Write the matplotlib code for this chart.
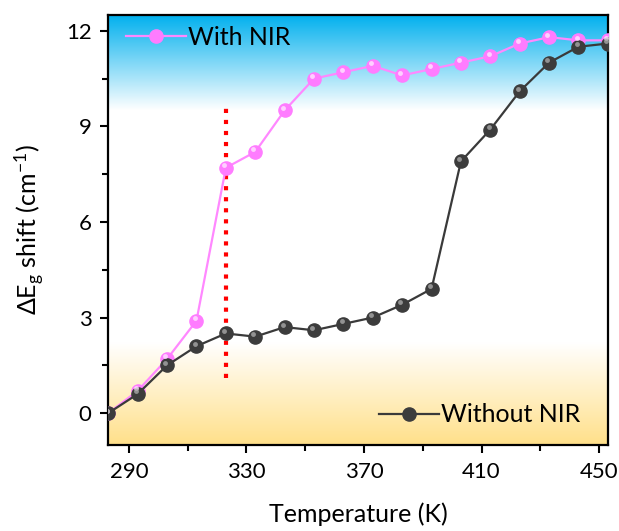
#!/usr/bin/env python3
# -*- coding: utf-8 -*-

import numpy as np
import matplotlib
matplotlib.use("Agg")
import matplotlib.pyplot as plt
from matplotlib.colors import to_rgb

# DATA ------------------------------------------------------------------------------------------------------------

temperature = [283, 293, 303, 313, 323, 333, 343, 353, 363, 373, 383, 393, 403, 413, 423, 433, 443, 453]
with_nir = [0.0, 0.7, 1.7, 2.9, 7.7, 8.2, 9.5, 10.5, 10.7, 10.9, 10.6, 10.8, 11.0, 11.2, 11.6, 11.8, 11.7, 11.7]
without_nir = [0.0, 0.6, 1.5, 2.1, 2.5, 2.4, 2.7, 2.6, 2.8, 3.0, 3.4, 3.9, 7.9, 8.9, 10.1, 11.0, 11.5, 11.6]
marker_temp = 323
marker_span = (1.1, 9.6)

x_ticks = [290, 330, 370, 410, 450]
y_ticks = [0, 3, 6, 9, 12]

# PLOT ------------------------------------------------------------------------------------------------------------

plt.rcParams['font.family'] = ['Lato', 'DejaVu Sans']
plt.rcParams['mathtext.fontset'] = 'custom'
plt.rcParams['mathtext.rm'] = 'Lato'
plt.rcParams['mathtext.it'] = 'Lato'

fig = plt.figure(figsize=(6.19, 5.31), dpi=100)
ax = fig.add_axes([0.175, 0.162, 0.807, 0.81])

xlim = (283, 453)
ylim = (-1.0, 12.5)

# background gradient: blue at top, white middle, yellow at bottom
ys = np.linspace(ylim[0], ylim[1], 400)
blue = np.array(to_rgb('#00b0ee'))
white = np.ones(3)
yellow = np.array(to_rgb('#ffe08a'))
stops_y = [ylim[0], 2.2, 9.5, ylim[1]]
grad = np.zeros((len(ys), 1, 3))
for c in range(3):
    grad[:, 0, c] = np.interp(ys, stops_y, [yellow[c], white[c], white[c], blue[c]])
ax.imshow(grad, extent=[xlim[0], xlim[1], ylim[0], ylim[1]], origin='lower', aspect='auto', zorder=0)


def sphere_line(x, y, line_color, face, highlight, label):
    ax.plot(x, y, '-', color=line_color, lw=1.6, zorder=3, label=label,
            marker='o', ms=9.5, mfc=face, mec=face)
    ax.plot(np.array(x) - 0.6, np.array(y) + 0.08, 'o', ms=3.5, mfc=highlight, mec='none', alpha=0.8, zorder=4)


sphere_line(temperature, with_nir, '#ff88ff', '#ff7cff', '#ffe6ff', 'With NIR')
sphere_line(temperature, without_nir, '#3a3a3a', '#3c3c3c', '#a8a8a8', 'Without NIR')

ax.plot([marker_temp, marker_temp], marker_span, ':', color='#ff0000', lw=3, zorder=2)

ax.set_xlim(*xlim)
ax.set_ylim(*ylim)
ax.set_xticks(x_ticks)
ax.set_xticks([310, 350, 390, 430], minor=True)
ax.set_yticks(y_ticks)
ax.set_yticks([1.5, 4.5, 7.5, 10.5], minor=True)
ax.tick_params(which='both', direction='out', width=1.5, labelsize=16)
ax.tick_params(which='major', length=6, pad=6)
ax.tick_params(which='minor', length=4)
for s in ax.spines.values():
    s.set_linewidth(1.6)

ax.set_xlabel('Temperature (K)', fontsize=18, labelpad=15)
ax.set_ylabel(r'$\Delta$E$_\mathrm{g}$ shift (cm$^{-1}$)', fontsize=18, labelpad=14)

h, l = ax.get_legend_handles_labels()
leg1 = ax.legend([h[0]], [l[0]], loc='center left', bbox_to_anchor=(0.035, 0.948), frameon=False, fontsize=18,
                 handlelength=2.4, borderaxespad=0, borderpad=0, handletextpad=0.1)
ax.add_artist(leg1)
ax.legend([h[1]], [l[1]], loc='center right', bbox_to_anchor=(0.945, 0.07), frameon=False, fontsize=18,
          handlelength=2.4, borderaxespad=0, borderpad=0, handletextpad=0.1)

fig.savefig('out.png', dpi=100)
